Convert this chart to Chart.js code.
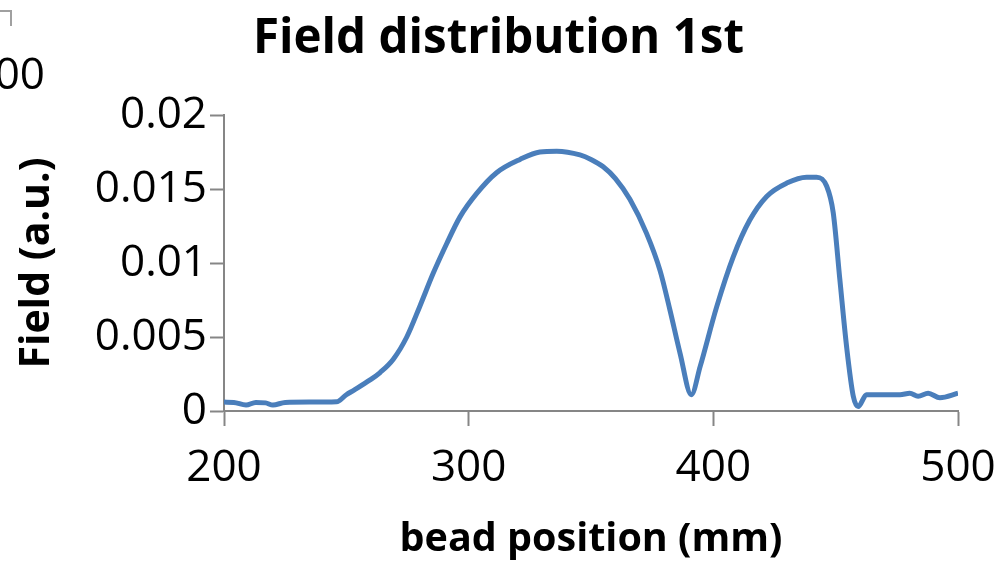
<!DOCTYPE html>
<html>
<head>
<meta charset="utf-8">
<script src="https://cdn.jsdelivr.net/npm/chart.js@4"></script>
<style>
body{margin:0;background:#ffffff;}
</style>
</head>
<body>
<canvas id="fieldChart" width="997" height="563"></canvas>
<script>

// ================= DATA =================

const positionMm = [
200, 204, 209, 213, 217, 220, 225, 235, 246, 250,
253, 259.7, 263.8, 269.2, 274.7, 280.1, 285.5, 291, 296.4, 303.3,
311.4, 321, 329.1, 336, 345.5, 350, 355, 360, 365.9, 372.7,
378.2, 382.3, 386.4, 391, 394.6, 401.3, 408.1, 414.9, 421.8, 430,
438.1, 442.2, 446.3, 449, 451.7, 454.5, 457.2, 459.2, 462.6, 476.3,
480.3, 483.7, 487.8, 492.6, 500
];

const fieldValue = [
0.0006, 0.00058, 0.0004, 0.00058, 0.00055, 0.0004, 0.00058, 0.0006, 0.00062, 0.0011,
0.0014, 0.0021, 0.0026, 0.0035, 0.0050, 0.0071, 0.0093, 0.0113, 0.0131, 0.0147,
0.0161, 0.0170, 0.0175, 0.01755, 0.0173, 0.0170, 0.0165, 0.0157, 0.0143, 0.0120,
0.0095, 0.0068, 0.0039, 0.0011, 0.0030, 0.0070, 0.0104, 0.0129, 0.0145, 0.0154,
0.0158, 0.0158, 0.0152, 0.0134, 0.0089, 0.0043, 0.0010, 0.0003, 0.0011, 0.0011,
0.0012, 0.0010, 0.0012, 0.0009, 0.0012
];

const xTickLabels = ["200", "300", "400", "500"];
const yTickLabels = ["0", "0.005", "0.01", "0.015", "0.02"];


// ================= LEFTOVER EDGE OF NEIGHBOUR CHART =================

const edgeBits = {
id: "edgeBits",
afterDraw(chart){
const ctx = chart.ctx;
ctx.save();
ctx.strokeStyle = "#a0a0a0";
ctx.lineWidth = 2;
ctx.beginPath();
ctx.moveTo(0, 11);
ctx.lineTo(11, 11);
ctx.lineTo(11, 26);
ctx.stroke();
ctx.fillStyle = "#000000";
ctx.font = "44px 'Open Sans'";
ctx.textAlign = "right";
ctx.textBaseline = "middle";
ctx.fillText("00", 45, 76);
ctx.restore();
}
};


// ================= FIELD CHART =================

const fieldChart =
document.getElementById("fieldChart");

if(fieldChart){

new Chart(fieldChart, {

type:"line",

data:{
datasets:[{
label:"Field",
data: positionMm.map((x, i) => ({x: x, y: fieldValue[i]})),
borderColor:"#4a7ebb",
borderWidth:5,
pointRadius:0,
fill:false,
cubicInterpolationMode:"monotone"
}]
},

options:{
responsive:false,
animation:false,
layout:{
padding:{left:39, right:39, top:0, bottom:0}
},
plugins:{
legend:{display:false},
tooltip:{enabled:false},
title:{
display:true,
text:"Field distribution 1st",
color:"#000000",
font:{family:"'Open Sans'", size:47.5, weight:"bold", lineHeight:1.2},
padding:{top:11, bottom:47}
}
},
scales:{
x:{
type:"linear",
min:200,
max:500,
afterFit(scale){
scale.height = 152;
scale.paddingLeft = 0;
scale.paddingRight = 0;
},
afterBuildTicks(scale){
scale.ticks = xTickLabels.map(v => ({value: Number(v)}));
},
ticks:{
color:"#000000",
font:{family:"'Open Sans'", size:44},
padding:16,
maxRotation:0,
callback:(v, i) => xTickLabels[i]
},
grid:{
drawOnChartArea:false,
tickLength:15,
tickColor:"#868686",
tickWidth:2
},
border:{color:"#868686", width:2},
title:{
display:true,
text:"bead position (mm)",
color:"#000000",
font:{family:"'Open Sans'", size:39.5, weight:"bold", lineHeight:1.2},
padding:{top:0, bottom:0}
}
},
y:{
min:0,
max:0.02,
afterFit(scale){
scale.width = 185;
scale.paddingTop = 0;
scale.paddingBottom = 0;
},
afterBuildTicks(scale){
scale.ticks = yTickLabels.map(v => ({value: Number(v)}));
},
ticks:{
color:"#000000",
font:{family:"'Open Sans'", size:44},
padding:3,
callback:(v, i) => yTickLabels[i]
},
grid:{
drawOnChartArea:false,
tickLength:14,
tickColor:"#868686",
tickWidth:2
},
border:{color:"#868686", width:2},
title:{
display:true,
text:"Field (a.u.)",
color:"#000000",
font:{family:"'Open Sans'", size:41, weight:"bold", lineHeight:1.2},
padding:{top:-26, bottom:0}
}
}
}
},

plugins:[edgeBits]

});

}

</script>
</body>
</html>
